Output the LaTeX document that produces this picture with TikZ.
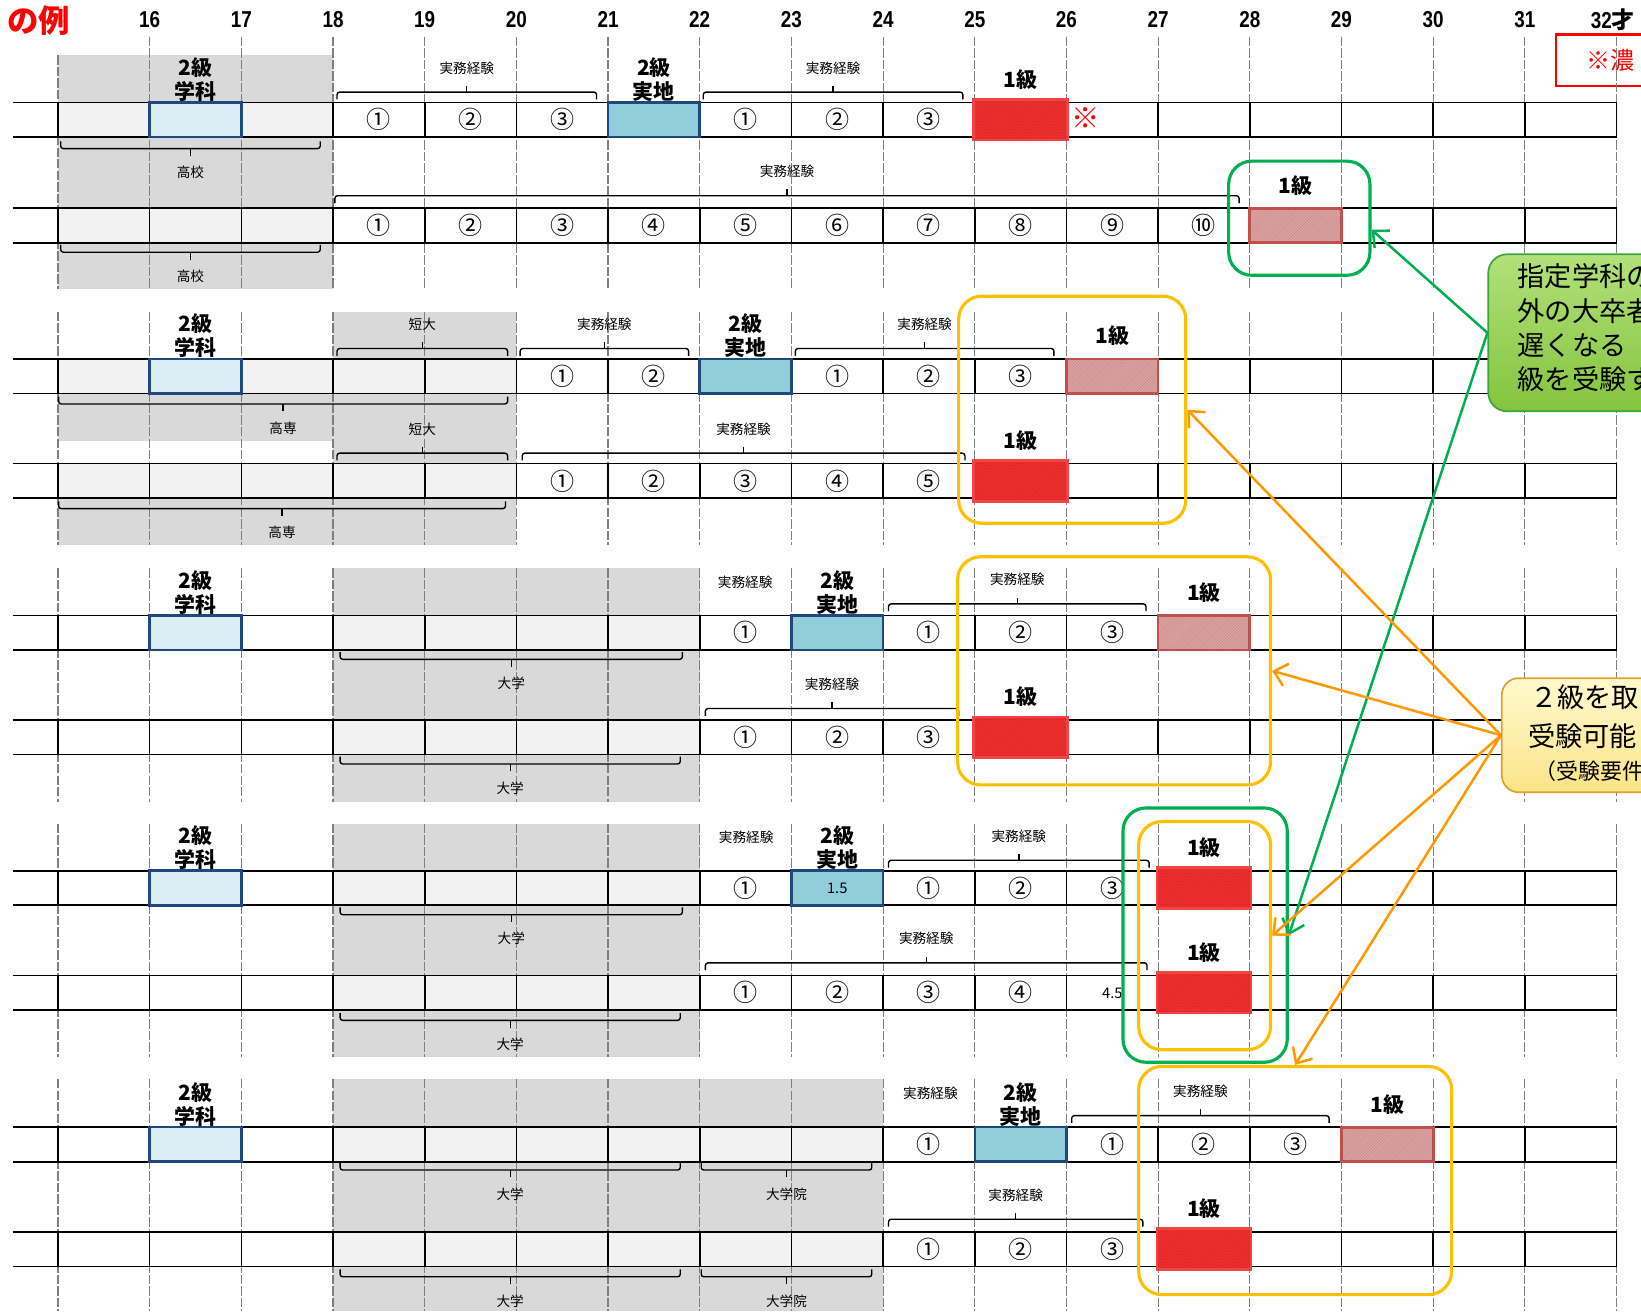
\documentclass[tikz,border=0pt]{standalone}
\usepackage{fontspec}
\setmainfont{Noto Sans CJK JP}
\newfontfamily\agefont{Liberation Sans}[FakeStretch=0.82]
\usetikzlibrary{arrows.meta,patterns}

\definecolor{grayarea}{HTML}{D9D9D9}
\definecolor{cellgray}{HTML}{F2F2F2}
\definecolor{lightblue}{HTML}{DBEEF4}
\definecolor{midblue}{HTML}{92CDDC}
\definecolor{navy}{HTML}{1F497D}
\definecolor{brightred}{HTML}{EC2E2E}
\definecolor{brightredline}{HTML}{F04545}
\definecolor{dullred}{HTML}{D8A3A3}
\definecolor{dullredline}{HTML}{C0504D}
\definecolor{framegreen}{HTML}{00B050}
\definecolor{frameyellow}{HTML}{FFC000}
\definecolor{arroworange}{HTML}{FF9900}
\definecolor{gridgray}{HTML}{7F7F7F}
\definecolor{notegreentop}{HTML}{B2E07A}
\definecolor{notegreenbot}{HTML}{84C43E}
\definecolor{notegreenline}{HTML}{3DA33D}
\definecolor{noteyellowtop}{HTML}{FFF9CF}
\definecolor{noteyellowbot}{HTML}{FBE487}
\definecolor{noteyellowline}{HTML}{E0A030}

% x position of the grid line for a given age (age 16 at 143, 87.6 per year)
\newcommand\ax[1]{#1*87.6-1258.6}
% centre of the cell that starts at a given age
\newcommand\cx[1]{#1*87.6-1214.8}

% one timeline row: rules and black cell separators
\newcommand\band[1]{%
  \draw[rowrule] (12,#1) -- (1545,#1) (12,#1+33) -- (1545,#1+33);
  \foreach \a in {15,...,32} \draw[rowrule] (\ax{\a},#1) -- (\ax{\a},#1+33);
}
% light grey school cells from age #1 to age #2 in the row at #3
\newcommand\lcells[3]{\fill[cellgray] (\ax{#1},#3) rectangle (\ax{#2},#3+33);}
% grade-2 boxes
\newcommand\bluebox[3]{\draw[navy,line width=2.4pt,fill=#3] (\ax{#1},#2) rectangle (\ax{#1}+87.6,#2+33);}
% grade-1 boxes: bright and dull
\newcommand\redA[2]{%
  \fill[brightred] (\ax{#1}-1,#2-3) rectangle (\ax{#1}+88.6,#2+36);
  \fill[pattern=crosshatch dots,pattern color=red!55!black,opacity=0.25] (\ax{#1}-1,#2-3) rectangle (\ax{#1}+88.6,#2+36);
  \draw[brightredline,line width=2.4pt] (\ax{#1}-1,#2-3) rectangle (\ax{#1}+88.6,#2+36);}
\newcommand\redB[2]{%
  \fill[dullred] (\ax{#1},#2) rectangle (\ax{#1}+87.6,#2+33);
  \fill[pattern=north east lines,pattern color=dullredline!70] (\ax{#1},#2) rectangle (\ax{#1}+87.6,#2+33);
  \draw[dullredline,line width=2.6pt] (\ax{#1},#2) rectangle (\ax{#1}+87.6,#2+33);}
% grade label above a cell
\newcommand\grade[4]{\node[gradelbl] (#1) at (\cx{#2},#3-22) {#4};}
% circled numbers along a row
\newcommand\nums[4]{\foreach \t [count=\i from 0] in {#4} {\node[circnum] (#1-\i) at ({(#3+\i)*87.6-1214.8},#2+16.5) {\t};}}
% bracket opening downwards, label above
\newcommand\bup[5]{%
  \draw[bracket] (#2,#4+7) -- (#2,#4) -- (#3,#4) -- (#3,#4+7);
  \draw[bracket] ({(#2+#3)/2},#4) -- ({(#2+#3)/2},#4-6);
  \node[smalllbl] (#1) at ({(#2+#3)/2},#4-23) {#5};}
% bracket opening upwards, label below
\newcommand\bdn[5]{%
  \draw[bracket] (#2,#4-7) -- (#2,#4) -- (#3,#4) -- (#3,#4-7);
  \draw[bracket] ({(#2+#3)/2},#4) -- ({(#2+#3)/2},#4+7);
  \node[smalllbl] (#1) at ({(#2+#3)/2},#4+23) {#5};}

\begin{document}
\begin{tikzpicture}[x=1pt,y=-1pt,
  agelbl/.style={font=\agefont\bfseries\fontsize{22}{22}\selectfont,inner sep=0},
  gradelbl/.style={font=\bfseries\fontsize{20}{23}\selectfont,align=center,inner sep=0},
  smalllbl/.style={font=\fontsize{13}{13}\selectfont,inner sep=0},
  circnum/.style={font=\fontsize{23}{23}\selectfont,inner sep=0},
  tinylbl/.style={font=\fontsize{14}{14}\selectfont,inner sep=0},
  rowrule/.style={line width=1.6pt},
  agerule/.style={gridgray,line width=1.1pt,dash pattern=on 9pt off 2pt},
  bracket/.style={line width=1.3pt,rounded corners=2.5pt},
  hlframe/.style={line width=3pt,rounded corners=22pt,inner sep=0,fill=none},
  garrow/.style={framegreen,line width=2.4pt,-{Straight Barb[length=12pt,width=22pt]}},
  oarrow/.style={arroworange,line width=2.4pt,-{Straight Barb[length=12pt,width=22pt]}},
  notetext/.style={font=\fontsize{26}{26}\selectfont,inner sep=0,anchor=west},
]
\useasboundingbox (0,0) rectangle (1568,1253);
\clip (0,0) rectangle (1568,1253);

% ---- school periods (grey areas)
\fill[grayarea] (\ax{15},53) rectangle (\ax{18},276);
\fill[grayarea] (\ax{18},298) rectangle (\ax{20},521);
\fill[grayarea] (\ax{15},376) rectangle (\ax{20},421);
\fill[grayarea] (\ax{15},476) rectangle (\ax{20},521);
\fill[grayarea] (\ax{18},543) rectangle (\ax{22},766);
\fill[grayarea] (\ax{18},787) rectangle (\ax{22},1010);
\fill[grayarea] (\ax{18},1031) rectangle (\ax{24},1253);

% ---- heading and legend
\node[font=\bfseries\fontsize{30}{30}\selectfont,text=red,anchor=east,inner sep=0] (title) at (67,20) {の例};
\draw[red,line width=2pt] (1487,33) rectangle (1700,82);
\node[font=\fontsize{23}{23}\selectfont,text=red,anchor=west,inner sep=0] (legend) at (1516,58) {※濃};

% ---- age scale
\foreach \a in {16,...,31} \node[agelbl] (age\a) at (\ax{\a},19) {\a};
\node[agelbl] (age32) at (1541,19) {32\normalfont\bfseries 才};

% ---- dashed age lines, per block
\foreach \a in {16,...,32} \draw[agerule] (\ax{\a},35) -- (\ax{\a},276);
\draw[agerule] (\ax{15},53) -- (\ax{15},276);
\foreach \t/\b in {298/521,543/766,787/1010,1031/1253}
  \foreach \a in {15,...,32} \draw[agerule] (\ax{\a},\t) -- (\ax{\a},\b);

% ---- school cells inside rows
\lcells{15}{18}{98} \lcells{15}{18}{199}
\lcells{15}{20}{343} \lcells{15}{20}{443}
\lcells{18}{22}{588} \lcells{18}{22}{688}
\lcells{18}{22}{832} \lcells{18}{22}{932}
\lcells{18}{24}{1077} \lcells{18}{24}{1177}

% ---- rows
\foreach \r in {98,199,343,443,588,688,832,932,1077,1177} {\band{\r}}

% ================= block 1: high school
\bluebox{16}{98}{lightblue}
\grade{b1a-g2}{16}{98}{2級\\学科}
\bup{b1a-x1}{322}{570}{88}{実務経験}
\nums{b1a-n1}{98}{18}{①,②,③}
\bluebox{21}{98}{midblue}
\grade{b1a-g2p}{21}{98}{2級\\実地}
\bup{b1a-x2}{672}{920}{88}{実務経験}
\nums{b1a-n2}{98}{22}{①,②,③}
\redA{25}{98}
\grade{b1a-g1}{25}{98}{1級}
\node[font=\fontsize{27}{27}\selectfont,text=red,inner sep=0] (mark) at (1037,113) {※};
\bdn{b1a-s}{58}{306}{142}{高校}

\bup{b1b-x}{320}{1184}{187}{実務経験}
\nums{b1b-n}{199}{18}{①,②,③,④,⑤,⑥,⑦,⑧,⑨,⑩}
\redB{28}{199}
\grade{b1b-g1}{28}{199}{1級}
\bdn{b1b-s}{58}{306}{241}{高校}

% ================= block 2: technical college / junior college
\bluebox{16}{343}{lightblue}
\grade{b2a-g2}{16}{343}{2級\\学科}
\bup{b2a-s2}{322}{485}{333}{短大}
\bup{b2a-x1}{497}{658}{333}{実務経験}
\nums{b2a-n1}{343}{20}{①,②}
\bluebox{22}{343}{midblue}
\grade{b2a-g2p}{22}{343}{2級\\実地}
\bup{b2a-x2}{760}{1007}{333}{実務経験}
\nums{b2a-n2}{343}{23}{①,②,③}
\redB{26}{343}
\grade{b2a-g1}{26}{343}{1級}
\bdn{b2a-s}{56}{485}{386}{高専}

\bup{b2b-s2}{322}{485}{433}{短大}
\bup{b2b-x}{499}{922}{433}{実務経験}
\nums{b2b-n}{443}{20}{①,②,③,④,⑤}
\redA{25}{443}
\grade{b2b-g1}{25}{443}{1級}
\bdn{b2b-s}{56}{483}{486}{高専}

% ================= block 3: university
\bluebox{16}{588}{lightblue}
\grade{b3a-g2}{16}{588}{2級\\学科}
\node[smalllbl] (b3a-x1) at (712,556) {実務経験};
\nums{b3a-n1}{588}{22}{①}
\bluebox{23}{588}{midblue}
\grade{b3a-g2p}{23}{588}{2級\\実地}
\bup{b3a-x2}{849}{1095}{577}{実務経験}
\nums{b3a-n2}{588}{24}{①,②,③}
\redB{27}{588}
\grade{b3a-g1}{27}{588}{1級}
\bdn{b3a-s}{325}{652}{630}{大学}

\bup{b3b-x}{674}{916}{677}{実務経験}
\nums{b3b-n}{688}{22}{①,②,③}
\redA{25}{688}
\grade{b3b-g1}{25}{688}{1級}
\bdn{b3b-s}{325}{650}{730}{大学}

% ================= block 4: university, other faculty
\bluebox{16}{832}{lightblue}
\grade{b4a-g2}{16}{832}{2級\\学科}
\node[smalllbl] (b4a-x1) at (713,800) {実務経験};
\nums{b4a-n1}{832}{22}{①}
\bluebox{23}{832}{midblue}
\node[tinylbl] (b4a-yr) at (\cx{23},849) {1.5};
\grade{b4a-g2p}{23}{832}{2級\\実地}
\bup{b4a-x2}{849}{1098}{822}{実務経験}
\nums{b4a-n2}{832}{24}{①,②,③}
\redA{27}{832}
\grade{b4a-g1}{27}{832}{1級}
\bdn{b4a-s}{325}{652}{874}{大学}

\bup{b4b-x}{674}{1096}{920}{実務経験}
\nums{b4b-n}{932}{22}{①,②,③,④}
\node[tinylbl] (b4b-yr) at (\cx{26},949) {4.5};
\redA{27}{932}
\grade{b4b-g1}{27}{932}{1級}
\bdn{b4b-s}{325}{650}{975}{大学}

% ================= block 5: graduate school
\bluebox{16}{1077}{lightblue}
\grade{b5a-g2}{16}{1077}{2級\\学科}
\node[smalllbl] (b5a-x1) at (889,1045) {実務経験};
\nums{b5a-n1}{1077}{24}{①}
\bluebox{25}{1077}{midblue}
\grade{b5a-g2p}{25}{1077}{2級\\実地}
\bup{b5a-x2}{1024}{1270}{1066}{実務経験}
\nums{b5a-n2}{1077}{26}{①,②,③}
\redB{29}{1077}
\grade{b5a-g1}{29}{1077}{1級}
\bdn{b5a-s1}{325}{650}{1118}{大学}
\bdn{b5a-s2}{670}{833}{1118}{大学院}

\bup{b5b-x}{849}{1092}{1165}{実務経験}
\nums{b5b-n}{1177}{24}{①,②,③}
\redA{27}{1177}
\grade{b5b-g1}{27}{1177}{1級}
\bdn{b5b-s1}{325}{650}{1220}{大学}
\bdn{b5b-s2}{670}{833}{1220}{大学院}

% ---- highlight frames
\node[hlframe,draw=framegreen,minimum width=135pt,minimum height=109pt] (f1) at (1241.5,208.5) {};
\node[hlframe,draw=frameyellow,minimum width=217pt,minimum height=217pt] (f2) at (1024.5,391.5) {};
\node[hlframe,draw=frameyellow,minimum width=299pt,minimum height=218pt] (f3) at (1064.5,641) {};
\node[hlframe,draw=framegreen,minimum width=157pt,minimum height=243pt] (f4g) at (1151.5,893.5) {};
\node[hlframe,draw=frameyellow,minimum width=126pt,minimum height=218pt] (f4y) at (1151,894) {};
\node[hlframe,draw=frameyellow,minimum width=299pt,minimum height=218pt] (f5) at (1237.5,1128) {};

% ---- callouts
\node[draw=notegreenline,line width=1.6pt,rounded corners=18pt,top color=notegreentop,bottom color=notegreenbot,
      minimum width=218pt,minimum height=150pt,inner sep=0] (note1) at (1531,318) {};
\node[notetext] (note1l1) at (1450,264) {指定学科の};
\node[notetext] (note1l2) at (1450,297) {外の大卒者};
\node[notetext] (note1l3) at (1450,330) {遅くなる};
\node[notetext] (note1l4) at (1450,362) {級を受験す};

\node[draw=noteyellowline,line width=1.6pt,rounded corners=16pt,top color=noteyellowtop,bottom color=noteyellowbot,
      minimum width=205pt,minimum height=109pt,inner sep=0] (note2) at (1537.5,702.5) {};
\node[notetext] (note2l1) at (1462,666) {２級を取};
\node[notetext] (note2l2) at (1460,703) {受験可能};
\node[notetext,font=\fontsize{21}{21}\selectfont] (note2l3) at (1466,737) {（受験要件};

% ---- arrows
\draw[garrow] (note1.west) -- ([yshift=-11pt]f1.east);
\draw[garrow] (note1.west) -- (f4g.east);
\draw[oarrow] (note2.west) -- (f2.east);
\draw[oarrow] (note2.west) -- (f3.east);
\draw[oarrow] (note2.west) -- (f4y.east);
\draw[oarrow] (note2.west) -- (f5.north);
\end{tikzpicture}
\end{document}
